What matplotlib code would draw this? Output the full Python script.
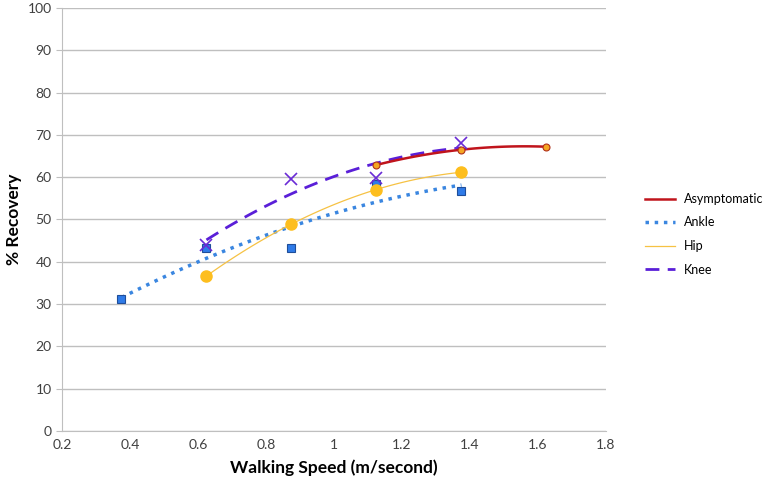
import numpy as np
import matplotlib.pyplot as plt

plt.rcParams['font.family'] = ['Lato', 'DejaVu Sans']

# walking speed (m/s) and % recovery per group
asym_x = [1.125, 1.375, 1.625]
asym_y = [62.9, 66.5, 67.2]
ankle_x = [0.375, 0.625, 0.875, 1.125, 1.375]
ankle_y = [31.2, 43.2, 43.3, 58.5, 56.8]
hip_x = [0.625, 0.875, 1.125, 1.375]
hip_y = [36.6, 49.0, 57.0, 61.2]
knee_x = [0.625, 0.875, 1.125, 1.375]
knee_y = [44.0, 59.6, 59.8, 68.1]

grid_c = '#BFBFBF'


def trend(x, y):
    # 2nd order polynomial trendline, like the spreadsheet one
    p = np.polyfit(x, y, 2)
    xs = np.linspace(min(x), max(x), 100)
    return xs, np.polyval(p, xs)


fig = plt.figure(figsize=(7.67, 4.84), dpi=100)
ax = fig.add_axes([0.0808, 0.1095, 0.7092, 0.874])

# markers
ax.plot(ankle_x, ankle_y, 's', color='#2F7BE8', mec='#1F4E9A', mew=0.8, ms=6, zorder=3)
ax.plot(hip_x, hip_y, 'o', color='#FDBE1E', mec='#FDBE1E', ms=8, zorder=3)
ax.plot(knee_x, knee_y, 'x', color='#6A2BD6', ms=8, mew=1.2, zorder=4)
ax.plot(asym_x, asym_y, 'o', color='#F5A623', mec='#B0301A', mew=0.8, ms=5, zorder=4)

# trendlines
xs, ys = trend(asym_x, asym_y)
ax.plot(xs, ys, '-', color='#C0141C', lw=1.8, label='Asymptomatic', zorder=3)
xs, ys = trend(ankle_x, ankle_y)
ax.plot(xs, ys, ':', color='#3A86E0', lw=2.5, label='Ankle', zorder=2)
xs, ys = trend(hip_x, hip_y)
ax.plot(xs, ys, '-', color='#F6C244', lw=0.9, label='Hip', zorder=2)
xs, ys = trend(knee_x, knee_y)
ax.plot(xs, ys, '--', color='#5A1FD8', lw=2.0, dashes=(5, 3), label='Knee', zorder=2)

ax.set_xlim(0.2, 1.8)
ax.set_ylim(0, 100)
ax.set_xticks(np.arange(0.2, 1.81, 0.2))
ax.set_xticklabels(['0.2', '0.4', '0.6', '0.8', '1', '1.2', '1.4', '1.6', '1.8'])
ax.set_yticks(range(0, 101, 10))
ax.yaxis.grid(True, color=grid_c, lw=1)
ax.set_axisbelow(True)

for s in ['top', 'right']:
    ax.spines[s].set_visible(False)
for s in ['left', 'bottom']:
    ax.spines[s].set_color(grid_c)
ax.tick_params(axis='both', colors=grid_c, labelcolor='#404040', labelsize=10, length=4)
ax.tick_params(axis='x', length=0, pad=6)

ax.set_xlabel('Walking Speed (m/second)', fontsize=12.5, fontweight='bold', labelpad=6)
ax.set_ylabel('% Recovery', fontsize=12.5, fontweight='bold', labelpad=4)

ax.legend(loc='upper left', bbox_to_anchor=(645 / 767, 1 - 193 / 484),
          bbox_transform=fig.transFigure, frameon=False, borderpad=0,
          borderaxespad=0, fontsize=9, handlelength=2.4, handletextpad=0.7,
          labelspacing=0.92)

fig.savefig('out.png', dpi=100)
